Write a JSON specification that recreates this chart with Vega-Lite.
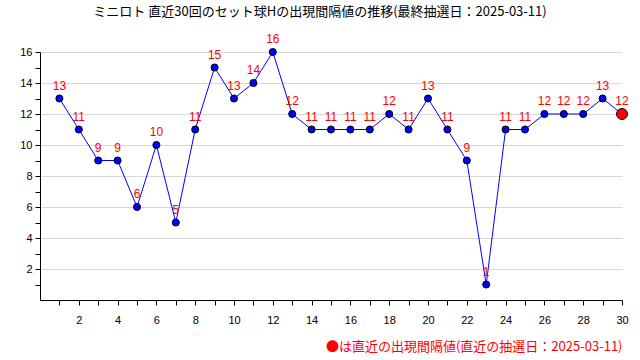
{
  "$schema": "https://vega.github.io/schema/vega-lite/v6.json",
  "width": 582,
  "height": 248,
  "autosize": {"type": "none"},
  "padding": {"left": 40, "top": 52, "right": 18, "bottom": 60},
  "background": "white",
  "config": {"view": {"stroke": null}, "font": "Noto Sans CJK JP"},
  "title": {
    "text": "ミニロト 直近30回のセット球Hの出現間隔値の推移(最終抽選日：2025-03-11)",
    "fontSize": 13,
    "fontWeight": "normal",
    "color": "black",
    "anchor": "middle",
    "dx": -11,
    "offset": 14
  },
  "data": {
    "values": [
      {"n": 1, "v": 13}, {"n": 2, "v": 11}, {"n": 3, "v": 9}, {"n": 4, "v": 9},
      {"n": 5, "v": 6}, {"n": 6, "v": 10}, {"n": 7, "v": 5}, {"n": 8, "v": 11},
      {"n": 9, "v": 15}, {"n": 10, "v": 13}, {"n": 11, "v": 14}, {"n": 12, "v": 16},
      {"n": 13, "v": 12}, {"n": 14, "v": 11}, {"n": 15, "v": 11}, {"n": 16, "v": 11},
      {"n": 17, "v": 11}, {"n": 18, "v": 12}, {"n": 19, "v": 11}, {"n": 20, "v": 13},
      {"n": 21, "v": 11}, {"n": 22, "v": 9}, {"n": 23, "v": 1}, {"n": 24, "v": 11},
      {"n": 25, "v": 11}, {"n": 26, "v": 12}, {"n": 27, "v": 12}, {"n": 28, "v": 12},
      {"n": 29, "v": 13}, {"n": 30, "v": 12}
    ]
  },
  "encoding": {
    "x": {
      "field": "n",
      "type": "quantitative",
      "scale": {"domain": [0, 30], "nice": false},
      "axis": {
        "values": [1,2,3,4,5,6,7,8,9,10,11,12,13,14,15,16,17,18,19,20,21,22,23,24,25,26,27,28,29,30],
        "labelExpr": "datum.value % 2 == 0 ? datum.label : ''",
        "grid": false,
        "tickSize": 5,
        "tickColor": "black",
        "domainColor": "black",
        "labelColor": "black",
        "labelFont": "Liberation Sans",
        "labelFontSize": 11,
        "labelPadding": 9,
        "labelFlush": false,
        "title": "●は直近の出現間隔値(直近の抽選日：2025-03-11)",
        "titleColor": "#ff0000",
        "titleAnchor": "end",
        "titleFontSize": 13,
        "titleFontWeight": "normal",
        "titlePadding": 15
      }
    },
    "y": {
      "field": "v",
      "type": "quantitative",
      "scale": {"domain": [0, 16], "nice": false},
      "axis": {
        "values": [1,2,3,4,5,6,7,8,9,10,11,12,13,14,15,16],
        "labelExpr": "datum.value % 2 == 0 ? datum.label : ''",
        "grid": true,
        "gridColor": {"condition": {"test": "datum.value % 2 == 0", "value": "#d8d8d8"}, "value": "transparent"},
        "tickSize": 5,
        "tickColor": "black",
        "domainColor": "black",
        "labelColor": "black",
        "labelFont": "Liberation Sans",
        "labelFontSize": 11,
        "labelPadding": 3,
        "title": null
      }
    }
  },
  "layer": [
    {"mark": {"type": "line", "color": "#0000ff", "strokeWidth": 1}},
    {
      "transform": [{"filter": "datum.n < 30"}],
      "mark": {"type": "circle", "size": 50, "fill": "#0000ff", "stroke": "black", "strokeWidth": 1, "opacity": 1}
    },
    {
      "transform": [{"filter": "datum.n == 30"}],
      "mark": {"type": "circle", "size": 120, "fill": "#ff0000", "stroke": "black", "strokeWidth": 1, "opacity": 1}
    },
    {
      "mark": {"type": "text", "color": "#ff0000", "dy": -13, "fontSize": 12, "font": "Liberation Sans"},
      "encoding": {"text": {"field": "v", "type": "quantitative"}}
    }
  ]
}
